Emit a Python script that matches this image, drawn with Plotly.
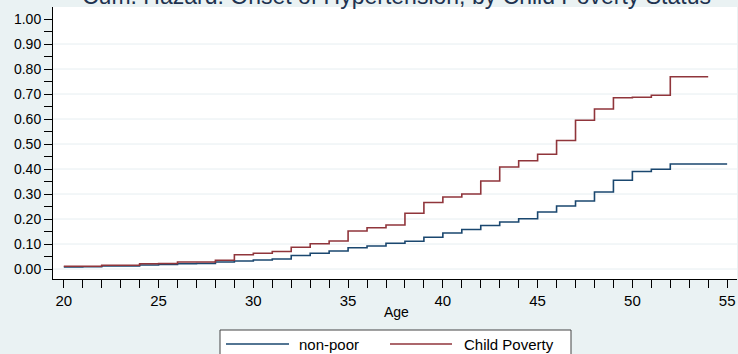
import plotly.graph_objects as go

# Cumulative hazard of hypertension onset by age, step estimates
ages_nonpoor = list(range(20, 56))
haz_nonpoor = [0.008, 0.009, 0.012, 0.012, 0.016, 0.018, 0.021, 0.022, 0.028, 0.032,
               0.036, 0.040, 0.054, 0.063, 0.072, 0.085, 0.092, 0.103, 0.111, 0.127,
               0.144, 0.158, 0.174, 0.188, 0.201, 0.228, 0.252, 0.272, 0.308, 0.355,
               0.390, 0.399, 0.420, 0.420, 0.420, 0.420]

ages_poverty = list(range(20, 55))
haz_poverty = [0.011, 0.011, 0.015, 0.015, 0.021, 0.022, 0.028, 0.028, 0.035, 0.057,
               0.063, 0.070, 0.087, 0.101, 0.112, 0.152, 0.165, 0.176, 0.223, 0.266,
               0.288, 0.300, 0.352, 0.408, 0.433, 0.459, 0.514, 0.595, 0.640, 0.685,
               0.687, 0.695, 0.769, 0.769, 0.769]

series_names = ["non-poor", "Child Poverty"]
series_colors = ["#1a476f", "#90353b"]
y_grid = [0.0, 0.1, 0.2, 0.3, 0.4, 0.5, 0.6, 0.7, 0.8, 0.9]

W, H = 738, 354
ML, MR, MT, MB = 53, 1, 7, 75
PW, PH = W - ML - MR, H - MT - MB
FONT = "Liberation Sans, Arial, sans-serif"


def px_x(p):
    return (p - ML) / PW


def px_y(p):
    return (H - MB - p) / PH


fig = go.Figure()
for xs, ys, name, col in [(ages_nonpoor, haz_nonpoor, series_names[0], series_colors[0]),
                          (ages_poverty, haz_poverty, series_names[1], series_colors[1])]:
    fig.add_trace(go.Scatter(x=xs, y=ys, mode="lines", name=name,
                             line=dict(shape="hv", color=col, width=1.6),
                             showlegend=False))

shapes = []
# horizontal grid lines
for g in y_grid:
    shapes.append(dict(type="line", xref="paper", yref="y", x0=0, x1=1, y0=g, y1=g,
                       line=dict(color="#e6eef1", width=1), layer="below"))

# legend box with line samples
shapes.append(dict(type="rect", xref="paper", yref="paper",
                   x0=px_x(220), x1=px_x(571), y0=px_y(330), y1=px_y(420),
                   line=dict(color="#444444", width=1), fillcolor="white", layer="above"))
legend_items = [(226, 289, 297), (390, 452, 462)]
annotations = []
for (lx0, lx1, tx), name, col in zip(legend_items, series_names, series_colors):
    shapes.append(dict(type="line", xref="paper", yref="paper",
                       x0=px_x(lx0), x1=px_x(lx1), y0=px_y(344), y1=px_y(344),
                       line=dict(color=col, width=1.4), layer="above"))
    annotations.append(dict(xref="paper", yref="paper", x=px_x(tx), y=px_y(344),
                            xanchor="left", yanchor="middle", showarrow=False,
                            text=name, font=dict(family=FONT, size=15, color="#000000")))

annotations.append(dict(xref="paper", yref="paper", x=px_x(396), y=px_y(-4.5),
                        xanchor="center", yanchor="middle", showarrow=False,
                        text="Cum. Hazard: Onset of Hypertension, by Child Poverty Status",
                        font=dict(family=FONT, size=23, color="#1e3250")))
annotations.append(dict(xref="paper", yref="paper", x=px_x(396), y=px_y(312),
                        xanchor="center", yanchor="middle", showarrow=False,
                        text="Age", font=dict(family=FONT, size=14, color="#000000")))

fig.update_layout(
    width=W, height=H,
    margin=dict(l=ML, r=MR, t=MT, b=MB, pad=0),
    paper_bgcolor="#eaf2f3",
    plot_bgcolor="#ffffff",
    shapes=shapes,
    annotations=annotations,
    font=dict(family=FONT, color="#000000"),
)
fig.update_xaxes(range=[19.43, 55.52], tickmode="linear", tick0=20, dtick=5,
                 ticks="outside", ticklen=8, tickcolor="#000000", tickwidth=1,
                 showline=True, linecolor="#000000", linewidth=1,
                 showgrid=False, zeroline=False,
                 tickfont=dict(family=FONT, size=15, color="#000000"),
                 minor=dict(dtick=1, tick0=20, ticks="outside", ticklen=8,
                            tickcolor="#000000", tickwidth=1, showgrid=False))
fig.update_yaxes(range=[-0.04, 1.048], tickmode="linear", tick0=0, dtick=0.1,
                 tickformat=".2f",
                 ticks="outside", ticklen=8, tickcolor="#000000", tickwidth=1,
                 showline=True, linecolor="#000000", linewidth=1,
                 showgrid=False, zeroline=False,
                 tickfont=dict(family=FONT, size=14, color="#000000"),
                 minor=dict(dtick=0.05, tick0=0, ticks="outside", ticklen=8,
                            tickcolor="#000000", tickwidth=1, showgrid=False))

fig.write_html("out.html")
